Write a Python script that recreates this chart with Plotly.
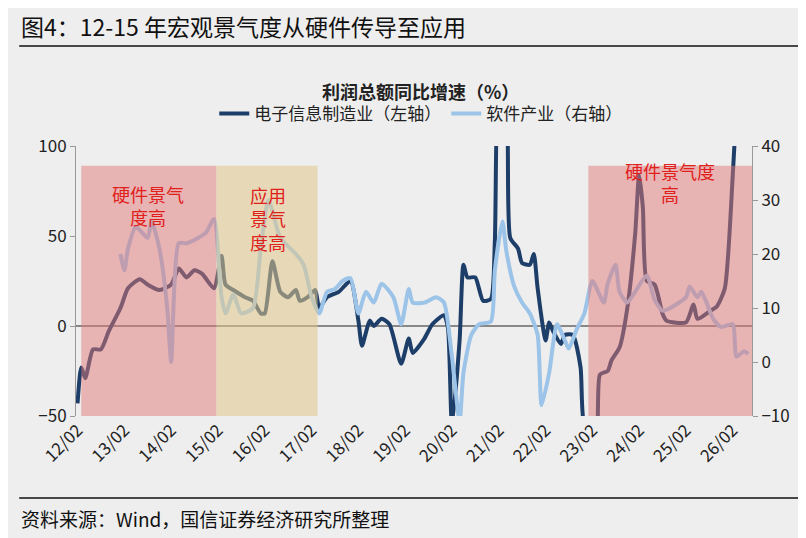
import plotly.graph_objects as go

elec_dates = ["2012-02","2012-03","2012-04","2012-06","2012-08","2012-10","2013-01","2013-03","2013-06","2013-08","2013-11","2014-02","2014-04","2014-06","2014-08","2014-10","2015-01","2015-03","2015-04","2015-06","2015-09","2015-11","2016-01","2016-02","2016-04","2016-06","2016-08","2016-10","2016-11","2017-01","2017-03","2017-04","2017-06","2017-09","2017-12","2018-02","2018-03","2018-05","2018-06","2018-08","2018-10","2019-01","2019-03","2019-04","2019-07","2019-09","2019-12","2020-01","2020-02","2020-04","2020-05","2020-06","2020-08","2020-10","2020-12","2021-01","2021-02","2021-04","2021-05","2021-07","2021-08","2021-10","2021-11","2021-12","2022-02","2022-03","2022-04","2022-06","2022-07","2022-09","2022-11","2022-12","2023-03","2023-04","2023-06","2023-07","2023-09","2023-11","2024-01","2024-02","2024-03","2024-04","2024-06","2024-08","2024-09","2025-02","2025-04","2025-05","2025-08","2025-10","2025-12","2026-02","2026-03"]
elec_vals = [-43,-23,-29,-13,-13,-3,10,21,26,23,20,23,32,27,31,29,21,39,23,20,16,14,7,7,36,19,16,20,14,16,20,10,16,19,25,3,-11,3,0,4,1,-21,-7,-15,-7,1,6,-1,-55,-8,34,27,27,14,15,47,130,120,49,43,35,34,40,21,-8,2,-3,-10,-5,-5,-23,-55,-60,-27,-25,-19,-12,10,51,84,66,25,23,7,3,2,12,4,8,11,21,84,120]

soft_dates = ["2013-01","2013-02","2013-03","2013-05","2013-08","2013-09","2013-11","2014-01","2014-02","2014-04","2014-06","2014-09","2014-11","2015-01","2015-03","2015-04","2015-06","2015-08","2015-11","2016-01","2016-03","2016-06","2016-10","2016-12","2017-02","2017-04","2017-06","2017-08","2017-10","2017-12","2018-02","2018-04","2018-06","2018-08","2018-11","2019-01","2019-03","2019-04","2019-07","2019-10","2019-12","2020-02","2020-04","2020-05","2020-07","2020-09","2020-12","2021-01","2021-03","2021-04","2021-06","2021-08","2021-10","2021-12","2022-01","2022-03","2022-05","2022-07","2022-08","2022-10","2022-12","2023-02","2023-05","2023-06","2023-08","2023-09","2023-11","2024-01","2024-04","2024-06","2024-08","2024-10","2025-02","2025-03","2025-05","2025-06","2025-09","2025-11","2026-02","2026-03","2026-05","2026-06"]
soft_vals = [20,17,21,25,23,26,21,10,0,22,22,23,24,26.5,12,9,12.5,9,10,21,30,23,20,18,12,9,13,13.5,15,15.5,9,13,11,14.5,12,7,13.5,11,11,12,11,1,-11,-2,5,7,7.5,17,26,20.5,14,11,9,5,-8,-2,7,4,2.5,6,9,15,11,14.5,18,13,11,13,16,11.5,9.5,10,12,14,12,13,8,6.5,7,1,2,1.5]

shade_periods = [("2012-03-01","2015-01-20","rgba(226,120,120,0.5)"),
                 ("2015-01-20","2017-03-20","rgba(226,200,140,0.55)"),
                 ("2023-01-01","2026-07-01","rgba(226,120,120,0.5)")]
shade_labels = ["硬件景气<br>度高","应用<br>景气<br>度高","硬件景气度<br>高"]
label_dates = ["2013-08-01","2016-03-01","2024-10-01"]
label_y = [67,60,80]

fig = go.Figure()
fig.add_trace(go.Scatter(x=elec_dates, y=elec_vals, name="电子信息制造业（左轴）",
                         line=dict(color="#1d3e68", width=4, shape="spline", smoothing=0.6), mode="lines"))
fig.add_trace(go.Scatter(x=soft_dates, y=soft_vals, name="软件产业（右轴）", yaxis="y2",
                         line=dict(color="#9cc3e8", width=4, shape="spline", smoothing=0.6), mode="lines"))

for x0, x1, c in shade_periods:
    fig.add_shape(type="rect", xref="x", yref="y", x0=x0, x1=x1, y0=-50, y1=89,
                  fillcolor=c, line_width=0, layer="above")
for t, d, yv in zip(shade_labels, label_dates, label_y):
    fig.add_annotation(x=d, y=yv, xref="x", yref="y", text=t, showarrow=False,
                       font=dict(color="#e0201a", size=18), align="center")

font = "Noto Sans CJK SC"
fig.add_annotation(x=-0.084, y=1.444, xref="paper", yref="paper", xanchor="left", yanchor="middle",
                   text="图4：12-15 年宏观景气度从硬件传导至应用", showarrow=False,
                   font=dict(size=23, color="#111", family=font))
fig.add_annotation(x=0.51, y=1.259, xref="paper", yref="paper", text="<b>利润总额同比增速（%）</b>",
                   showarrow=False, font=dict(size=18, color="#222", family=font))
fig.add_annotation(x=-0.084, y=-0.378, xref="paper", yref="paper", xanchor="left", yanchor="middle",
                   text="资料来源：Wind，国信证券经济研究所整理", showarrow=False,
                   font=dict(size=19, color="#111", family=font))
fig.add_shape(type="line", xref="paper", yref="paper", x0=-0.084, x1=1.078, y0=1.37, y1=1.37,
              line=dict(color="#111", width=1.5))
fig.add_shape(type="line", xref="paper", yref="paper", x0=-0.084, x1=1.078, y0=-0.304, y1=-0.304,
              line=dict(color="#111", width=1.5))

fig.update_layout(
    width=806, height=538, paper_bgcolor="#eeeeee", plot_bgcolor="#eeeeee",
    margin=dict(l=68, r=62, t=138, b=130),
    font=dict(family=font, size=15, color="#222"),
    showlegend=True,
    legend=dict(orientation="h", x=0.51, xanchor="center", y=1.119, yanchor="middle",
                bgcolor="rgba(0,0,0,0)", font=dict(size=17)),
    xaxis=dict(type="date", range=["2012-01-20", "2026-07-01"], tick0="2012-02-01", dtick="M12",
               tickformat="%y/%m", tickangle=-45, showgrid=False, ticks="", showline=False,
               tickfont=dict(size=17)),
    yaxis=dict(range=[-50, 100], dtick=50, showgrid=False, zeroline=True, zerolinecolor="#888",
               zerolinewidth=2, showline=True, linecolor="#999", ticks="outside", ticklen=5,
               tickcolor="#999", tickfont=dict(size=17)),
    yaxis2=dict(range=[-10, 40], dtick=10, overlaying="y", side="right", showgrid=False,
                zeroline=False, showline=True, linecolor="#999", ticks="outside", ticklen=5,
                tickcolor="#999", tickfont=dict(size=17)),
)
fig.write_html("out.html")
